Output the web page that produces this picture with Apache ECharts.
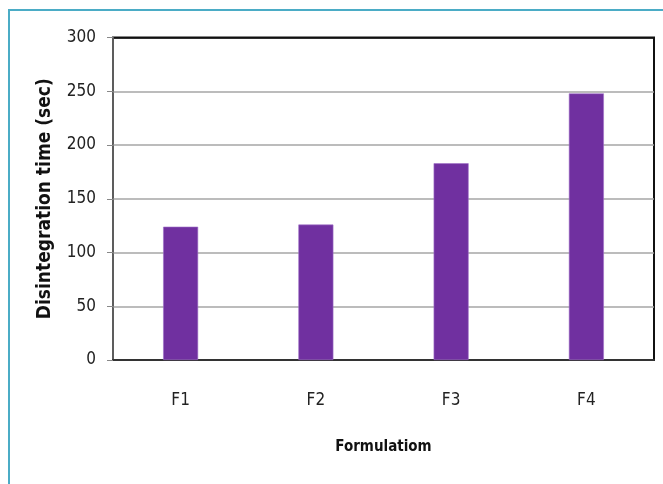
<!DOCTYPE html>
<html>
<head>
<meta charset="utf-8">
<script src="https://cdn.jsdelivr.net/npm/echarts@6/dist/echarts.min.js"></script>
<style>
  html, body { margin: 0; padding: 0; background: #fff; }
  #chart { width: 663px; height: 484px; }
</style>
</head>
<body>
<div id="chart"></div>
<script>
// Disintegration time per formulation
const categories = ['F1', 'F2', 'F3', 'F4'];
const disintegrationTime = [124, 126, 183, 248];
const yTicks = { min: 0, max: 300, interval: 50 };

const labelFont = '"DejaVu Sans Condensed", "Noto Sans", sans-serif';
const titleFont = '"DejaVu Sans Condensed", "Noto Sans", sans-serif';

// gridline colours: the top line doubles as the dark plot border
const gridColors = ['#a6a6a6', '#a6a6a6', '#a6a6a6', '#a6a6a6', '#a6a6a6', '#a6a6a6', '#111111'];

const chart = echarts.init(document.getElementById('chart'), null, { renderer: 'canvas' });
chart.setOption({
  animation: false,
  backgroundColor: '#ffffff',
  graphic: [{
    type: 'rect',
    shape: { x: 9, y: 10, width: 700, height: 520 },
    style: { fill: 'none', stroke: '#4bacc6', lineWidth: 2 },
    z: 0
  }],
  grid: {
    left: 113, top: 37.5, right: 9, bottom: 124,
    show: true, borderColor: '#111', borderWidth: 2, backgroundColor: 'transparent'
  },
  xAxis: {
    type: 'category',
    data: categories,
    name: 'Formulatiom',
    nameLocation: 'middle',
    nameGap: 80,
    nameTextStyle: { fontFamily: titleFont, fontWeight: 'bold', fontSize: 15, color: '#111' },
    axisLine: { lineStyle: { color: '#333', width: 2 } },
    axisTick: { show: false },
    axisLabel: { fontFamily: labelFont, fontSize: 17, color: '#222', margin: 32 }
  },
  yAxis: {
    type: 'value',
    min: yTicks.min, max: yTicks.max, interval: yTicks.interval,
    name: 'Disintegration time (sec)',
    nameLocation: 'middle',
    nameGap: 58,
    nameTextStyle: { fontFamily: titleFont, fontWeight: 'bold', fontSize: 19, color: '#111' },
    axisLine: { show: true, lineStyle: { color: '#777', width: 1.5 } },
    axisTick: { show: true, length: 6, lineStyle: { color: '#888', width: 1 } },
    axisLabel: { fontFamily: labelFont, fontSize: 17, color: '#222', margin: 17 },
    splitLine: { lineStyle: { color: gridColors, width: 1.5 } }
  },
  series: [{
    type: 'bar',
    data: disintegrationTime,
    barWidth: 35,
    itemStyle: { color: '#7030a0', borderColor: '#a070c8', borderWidth: 0.6 }
  }]
});
</script>
</body>
</html>
